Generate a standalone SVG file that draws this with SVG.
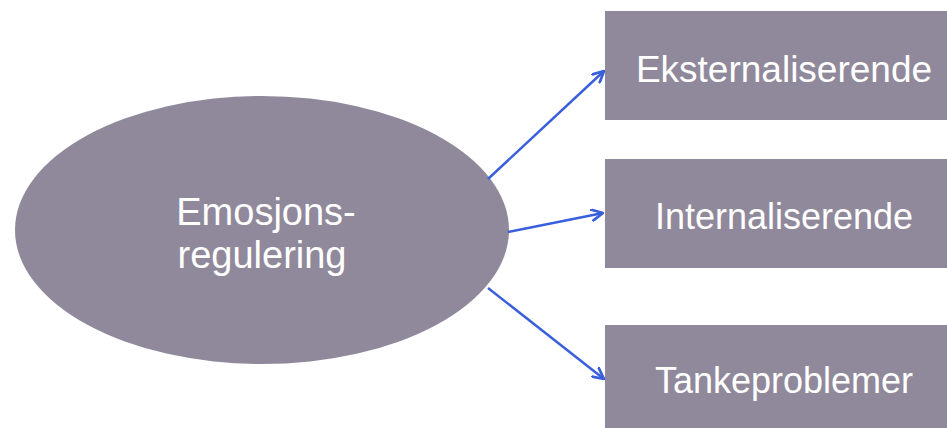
<svg xmlns="http://www.w3.org/2000/svg" width="947" height="428" viewBox="0 0 947 428">
<defs>
<style>
.node{fill:#90899b;}
.lbl{font-family:"Liberation Sans",Arial,sans-serif;font-size:36px;fill:#ffffff;text-anchor:middle;}
.big{font-size:38px;}
.conn{stroke:#3a5fdc;stroke-width:2.5;fill:none;}
</style>
<marker id="arr" viewBox="0 0 12 12" refX="11" refY="6" markerWidth="13" markerHeight="13" markerUnits="userSpaceOnUse" orient="auto">
<path d="M1,1 L11,6 L1,11" fill="none" stroke="#3a5fdc" stroke-width="2.5" stroke-linecap="round" stroke-linejoin="round"/>
</marker>
</defs>
<rect width="947" height="428" fill="#ffffff"/>
<g id="emosjonsregulering">
<ellipse class="node" cx="262" cy="230" rx="247" ry="134"/>
<text class="lbl big" x="266" y="225">Emosjons-</text>
<text class="lbl big" x="262" y="268">regulering</text>
</g>
<g id="eksternaliserende">
<rect class="node" x="605" y="11" width="360" height="109"/>
<text class="lbl" x="784" y="82" style="font-size:37px">Eksternaliserende</text>
</g>
<g id="internaliserende">
<rect class="node" x="605" y="159" width="360" height="109"/>
<text class="lbl" x="784" y="229">Internaliserende</text>
</g>
<g id="tankeproblemer">
<rect class="node" x="605" y="325" width="360" height="110"/>
<text class="lbl" x="784" y="393">Tankeproblemer</text>
</g>
<g id="connectors">
<line class="conn" x1="488" y1="179" x2="604" y2="71" marker-end="url(#arr)"/>
<line class="conn" x1="508" y1="232" x2="603" y2="213" marker-end="url(#arr)"/>
<line class="conn" x1="488" y1="288" x2="604" y2="379" marker-end="url(#arr)"/>
</g>
</svg>
